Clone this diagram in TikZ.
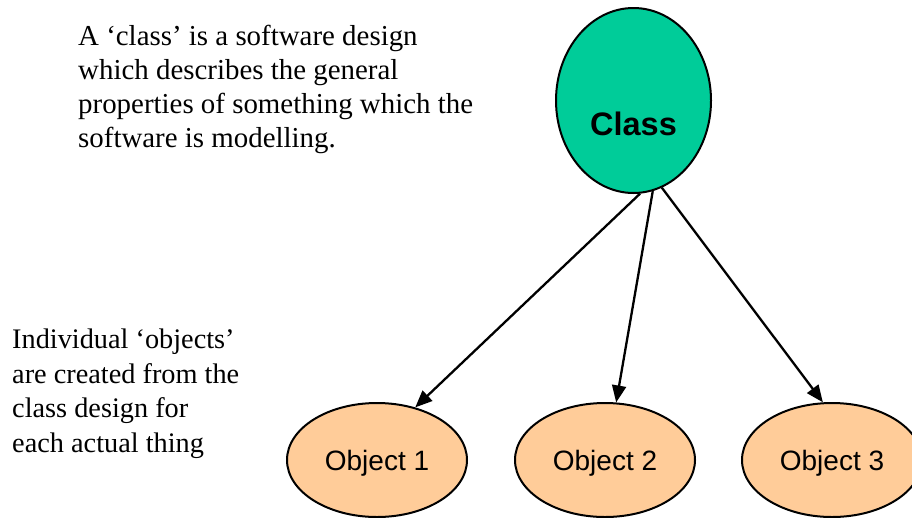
\documentclass[tikz,border=0pt]{standalone}
\usepackage{fontspec}
\setmainfont{Liberation Serif}
\newfontfamily\arialfont{Liberation Sans}
\usetikzlibrary{shapes.geometric,arrows.meta}
\definecolor{clsfill}{HTML}{00CC99}
\definecolor{objfill}{HTML}{FFCC99}
\tikzset{
  clsnode/.style={ellipse, draw=black, line width=2pt, fill=clsfill, inner sep=0pt,
    minimum width=155pt, minimum height=185pt,
    font=\arialfont\bfseries\fontsize{32.5}{36}\selectfont, text height=69pt, text depth=0pt},
  objnode/.style={ellipse, draw=black, line width=2pt, fill=objfill, inner sep=0pt,
    minimum width=180pt, minimum height=114pt,
    font=\arialfont\fontsize{28}{32}\selectfont, text height=20pt, text depth=0pt},
  link/.style={line width=2.3pt, -{Triangle[length=17pt,width=14pt]}},
  prose/.style={align=left, inner sep=0pt, anchor=base west}
}
\begin{document}
\begin{tikzpicture}[x=1pt,y=-1pt]
\useasboundingbox (0,0) rectangle (912,517);
\node[clsnode] (cls) at (633.5,100.5) {Class};
\node[objnode] (o1) at (377,460) {Object 1};
\node[objnode] (o2) at (605,460) {Object 2};
\node[objnode] (o3) at (832,460) {Object 3};
\draw[link] (cls.-86) -- (o1.54);
\draw[link] (cls.-78) -- (o2.79);
\draw[link] (cls.-72) -- (o3.99);
\node[prose, font=\fontsize{28.9}{34}\selectfont] (top) at (78,147)
  {A ‘class’ is a software design\\ which describes the general\\ properties of something which the\\ software is modelling.};
\node[prose, font=\fontsize{28.3}{34.5}\selectfont] (left) at (12,452)
  {Individual ‘objects’\\ are created from the\\ class design for\\ each actual thing};
\end{tikzpicture}
\end{document}
